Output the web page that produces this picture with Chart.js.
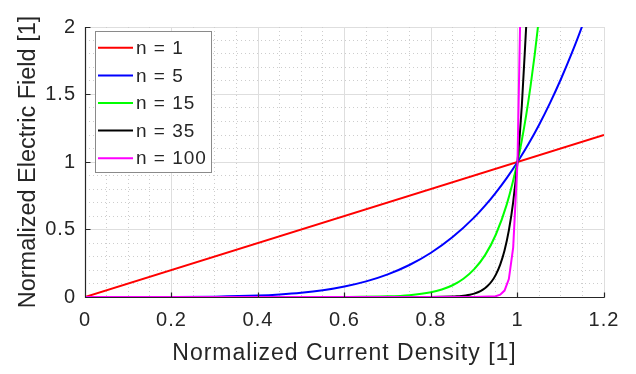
<!DOCTYPE html>
<html>
<head>
<meta charset="utf-8">
<script src="https://cdn.jsdelivr.net/npm/chart.js@4.4.1/dist/chart.umd.min.js"></script>
<style>
    html, body { margin: 0; padding: 0; background: #fff; }
</style>
</head>
<body>
<canvas id="fieldChart" width="636" height="374"></canvas>
<script>
// 曲线标签和颜色
const seriesLabels = ['n = 1', 'n = 5', 'n = 15', 'n = 35', 'n = 100'];
const seriesColors = ['#ff0000', '#0000ff', '#00ff00', '#000000', '#ff00ff'];

// 归一化电流密度 / 电场
const jN1 = [0, 1.2];
const eN1 = [0, 1.2];

const jN5 = [0, 0.1, 0.2, 0.3, 0.4, 0.45, 0.5, 0.55, 0.6, 0.65, 0.7, 0.75, 0.8, 0.85, 0.9, 0.925, 0.95, 0.975, 1.0, 1.025, 1.05, 1.075, 1.1, 1.125, 1.15, 1.2];
const eN5 = [0, 0.00001, 0.0003, 0.0024, 0.0102, 0.0185, 0.031, 0.050, 0.078, 0.116, 0.168, 0.237, 0.328, 0.444, 0.590, 0.677, 0.774, 0.881, 1.0, 1.131, 1.276, 1.436, 1.611, 1.802, 2.011, 2.488];

const jN15 = [0, 0.5, 0.6, 0.7, 0.75, 0.8, 0.825, 0.85, 0.875, 0.9, 0.925, 0.95, 0.975, 1.0, 1.01, 1.02, 1.03, 1.04, 1.05];
const eN15 = [0, 0.00003, 0.0005, 0.0047, 0.0134, 0.035, 0.056, 0.087, 0.135, 0.206, 0.310, 0.463, 0.684, 1.0, 1.161, 1.346, 1.558, 1.801, 2.079];

const jN35 = [0, 0.8, 0.85, 0.86, 0.87, 0.88, 0.89, 0.9, 0.91, 0.92, 0.93, 0.94, 0.95, 0.96, 0.97, 0.98, 0.99, 1.0, 1.01, 1.02];
const eN35 = [0, 0.0004, 0.0034, 0.0051, 0.0076, 0.0114, 0.0169, 0.025, 0.0368, 0.054, 0.0789, 0.1147, 0.166, 0.240, 0.344, 0.493, 0.703, 1.0, 1.417, 2.0];

const jN100 = [0, 0.9, 0.95, 0.96, 0.97, 0.98, 0.99, 1.0, 1.01];
const eN100 = [0, 0.00003, 0.0059, 0.0169, 0.0476, 0.1326, 0.366, 1.0, 2.705];

// 刻度
const xMin = 0, xMax = 1.2, xStep = 0.2, xMinorStep = 0.05;
const yMin = 0, yMax = 2, yStep = 0.5, yMinorStep = 0.1;

const xTitle = 'Normalized Current Density [1]';
const yTitle = 'Normalized Electric Field [1]';

const textColor = '#262626';
const fontFamily = 'Arial, "Liberation Sans", Helvetica, sans-serif';

function toPoints(xs, ys) {
    return xs.map((v, i) => ({ x: v, y: ys[i] }));
}

function isMajor(v, step) {
    return Math.abs(v / step - Math.round(v / step)) < 1e-6;
}

// MATLAB 式刻度文字: 1 而不是 1.0
function tickLabel(v) {
    return String(Number(v.toFixed(2)));
}

const seriesData = [
    toPoints(jN1, eN1),
    toPoints(jN5, eN5),
    toPoints(jN15, eN15),
    toPoints(jN35, eN35),
    toPoints(jN100, eN100)
];

// MATLAB 风格: 次网格、内向刻度、图例、纵轴标题
const matlabAxes = {
    id: 'matlabAxes',
    beforeDraw(chart) {
        chart.ctx.letterSpacing = '1px';
    },
    beforeDatasetsDraw(chart) {
        const { ctx, chartArea: a, scales: { x, y } } = chart;
        ctx.save();
        ctx.strokeStyle = '#cdcdcd';
        ctx.lineWidth = 1;
        ctx.setLineDash([1, 3]);
        ctx.beginPath();
        for (let v = xMin + xMinorStep; v < xMax - 1e-9; v += xMinorStep) {
            if (isMajor(v, xStep)) continue;
            const px = Math.round(x.getPixelForValue(v) - 0.5) + 0.5;
            ctx.moveTo(px, a.top);
            ctx.lineTo(px, a.bottom);
        }
        for (let v = yMin + yMinorStep; v < yMax - 1e-9; v += yMinorStep) {
            if (isMajor(v, yStep)) continue;
            const py = Math.round(y.getPixelForValue(v) - 0.5) + 0.5;
            ctx.moveTo(a.left, py);
            ctx.lineTo(a.right, py);
        }
        ctx.stroke();
        ctx.restore();
    },
    afterDatasetsDraw(chart) {
        const { ctx, chartArea: a, scales: { x, y } } = chart;
        const left = a.left + 0.5, bottom = a.bottom + 0.5;
        ctx.save();
        ctx.strokeStyle = textColor;
        ctx.lineWidth = 1.2;
        ctx.beginPath();
        ctx.moveTo(left, a.top);
        ctx.lineTo(left, bottom);
        ctx.lineTo(a.right + 0.5, bottom);
        x.ticks.forEach(t => {
            const px = Math.round(x.getPixelForValue(t.value) - 0.5) + 0.5;
            ctx.moveTo(px, bottom);
            ctx.lineTo(px, bottom - 5);
        });
        y.ticks.forEach(t => {
            const py = Math.round(y.getPixelForValue(t.value) - 0.5) + 0.5;
            ctx.moveTo(left, py);
            ctx.lineTo(left + 5, py);
        });
        ctx.stroke();
        ctx.restore();
    },
    afterDraw(chart) {
        const { ctx, chartArea: a } = chart;

        // 纵轴标题
        ctx.save();
        ctx.letterSpacing = '0px';
        ctx.fillStyle = textColor;
        ctx.font = '23.5px ' + fontFamily;
        ctx.textAlign = 'center';
        ctx.textBaseline = 'alphabetic';
        ctx.translate(35, (a.top + a.bottom) / 2);
        ctx.rotate(-Math.PI / 2);
        ctx.fillText(yTitle, 0, 0);
        ctx.restore();

        // 图例
        const bx = 95.5, by = 31.5, bw = 116, bh = 141;
        ctx.save();
        ctx.fillStyle = '#ffffff';
        ctx.fillRect(bx, by, bw, bh);
        ctx.strokeStyle = '#8a8a8a';
        ctx.lineWidth = 1;
        ctx.strokeRect(bx, by, bw, bh);
        ctx.font = '19px ' + fontFamily;
        ctx.letterSpacing = '1px';
        ctx.textAlign = 'left';
        ctx.textBaseline = 'middle';
        chart.data.datasets.forEach((ds, i) => {
            const ly = 47.8 + i * 27.6;
            ctx.strokeStyle = ds.borderColor;
            ctx.lineWidth = 2;
            ctx.beginPath();
            ctx.moveTo(98, ly);
            ctx.lineTo(133, ly);
            ctx.stroke();
            ctx.fillStyle = textColor;
            ctx.fillText(ds.label, 136, ly + 1);
        });
        ctx.restore();
    }
};

const ctx = document.getElementById('fieldChart');

new Chart(ctx, {
    type: 'line',
    data: {
        datasets: seriesLabels.map((label, i) => ({
            label: label,
            data: seriesData[i],
            borderColor: seriesColors[i],
            backgroundColor: seriesColors[i],
            borderWidth: 2,
            pointRadius: 0,
            fill: false,
            tension: 0,
            cubicInterpolationMode: i === 4 ? 'default' : 'monotone',
            order: seriesLabels.length - i
        }))
    },
    options: {
        responsive: false,
        animation: false,
        devicePixelRatio: 1,
        layout: { padding: { left: 0, right: 32, top: 27, bottom: 0 } },
        plugins: {
            legend: { display: false },
            tooltip: { enabled: false },
            title: { display: false }
        },
        scales: {
            x: {
                type: 'linear',
                min: xMin,
                max: xMax,
                afterFit: (scale) => { scale.height = 77; },
                ticks: {
                    stepSize: xStep,
                    color: textColor,
                    padding: 11,
                    maxRotation: 0,
                    font: { family: fontFamily, size: 20 },
                    callback: tickLabel
                },
                grid: { color: '#dedede', lineWidth: 1, drawTicks: false },
                border: { display: false },
                title: {
                    display: true,
                    text: xTitle,
                    color: textColor,
                    padding: { top: 0, bottom: 7 },
                    font: { family: fontFamily, size: 23 }
                }
            },
            y: {
                type: 'linear',
                min: yMin,
                max: yMax,
                afterFit: (scale) => { scale.width = 85; },
                ticks: {
                    stepSize: yStep,
                    color: textColor,
                    padding: 9,
                    font: { family: fontFamily, size: 20 },
                    callback: tickLabel
                },
                grid: { color: '#dedede', lineWidth: 1, drawTicks: false },
                border: { display: false },
                title: { display: false }
            }
        }
    },
    plugins: [matlabAxes]
});
</script>
</body>
</html>
